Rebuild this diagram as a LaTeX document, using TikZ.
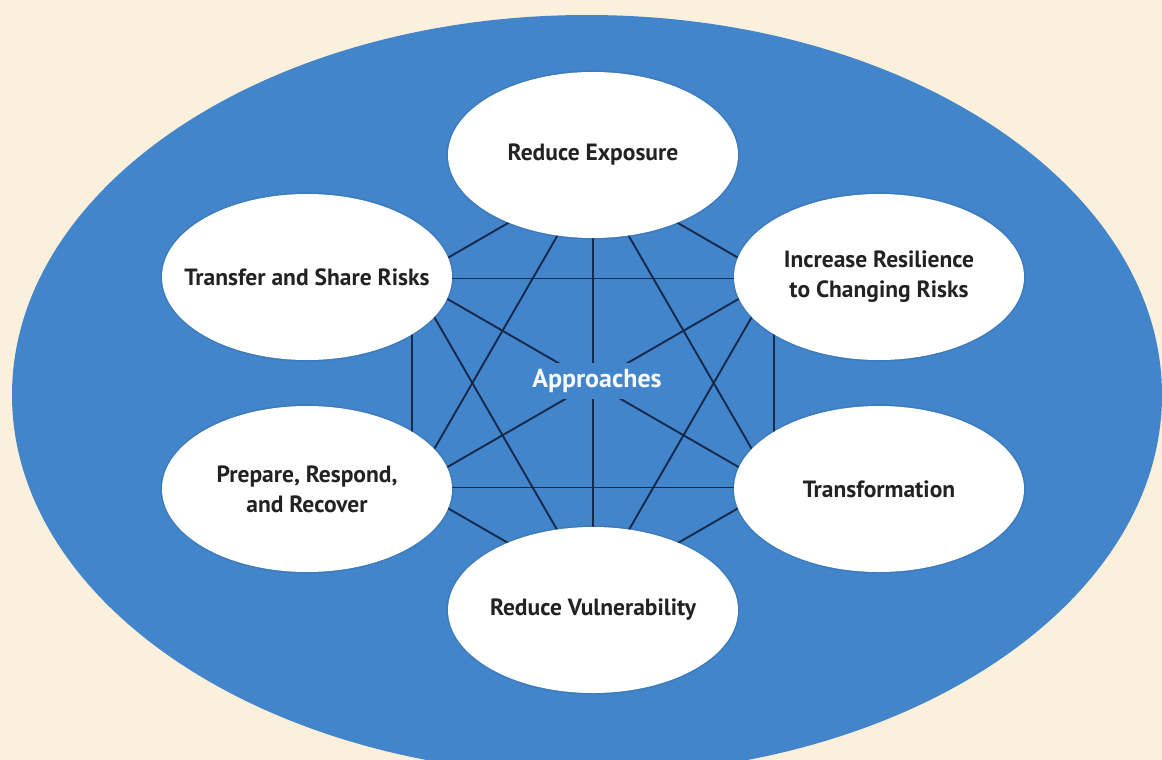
\documentclass[tikz,border=0pt]{standalone}
\usepackage{fontspec}
\setmainfont{PT Sans}
\usetikzlibrary{shapes.geometric}
\definecolor{bg}{HTML}{FBF0DC}
\definecolor{bigblue}{HTML}{4285CB}
\definecolor{linec}{HTML}{15294A}
\definecolor{txt}{HTML}{242122}
\begin{document}
\begin{tikzpicture}[x=1pt,y=-1pt,
  bubble/.style={ellipse, fill=white, minimum width=290pt, minimum height=166pt, inner sep=0pt,
    preaction={draw=bigblue!70!black, line width=3pt, opacity=0.25}},
  btext/.style={align=center, text=txt, font=\fontsize{23.5}{30}\selectfont\bfseries, inner sep=0pt},
  link/.style={draw=linec, line width=1.9pt}]
\useasboundingbox (0,0) rectangle (1162,760);
\fill[bg] (0,0) rectangle (1162,760);
\fill[bigblue] (587,395) ellipse [x radius=575pt, y radius=380pt];
% hexagon of connector ends
\coordinate (hT)  at (593,174);
\coordinate (hTL) at (412,278.5);
\coordinate (hTR) at (774,278.5);
\coordinate (hBL) at (412,487.5);
\coordinate (hBR) at (774,487.5);
\coordinate (hB)  at (593,592);
\foreach \a/\b in {hT/hTL,hT/hTR,hT/hBL,hT/hBR,hT/hB,
                   hTL/hTR,hTL/hBL,hTL/hBR,hTL/hB,
                   hTR/hBL,hTR/hBR,hTR/hB,
                   hBL/hBR,hBL/hB,hBR/hB}
  \draw[link] (\a) -- (\b);
\node[fill=bigblue, minimum height=36pt, inner xsep=3pt, text=white!96!bigblue,
      font=\fontsize{26}{28}\selectfont\bfseries] (appr) at (597,381) {Approaches};
% bubbles
\node[bubble] (re) at (593,155) {};
\node[bubble] (tr) at (307,277) {};
\node[bubble] (ir) at (879,277) {};
\node[bubble] (pr) at (307,489) {};
\node[bubble] (tf) at (879,489) {};
\node[bubble] (rv) at (593,610) {};
\node[btext] (reT) at (re) {Reduce Exposure};
\node[btext] (trT) at (tr) {Transfer and Share Risks};
\node[btext] (irT) at (ir) {Increase Resilience\\to Changing Risks};
\node[btext] (prT) at (pr) {Prepare, Respond,\\and Recover};
\node[btext] (tfT) at (tf) {Transformation};
\node[btext] (rvT) at (rv) {Reduce Vulnerability};
\end{tikzpicture}
\end{document}
